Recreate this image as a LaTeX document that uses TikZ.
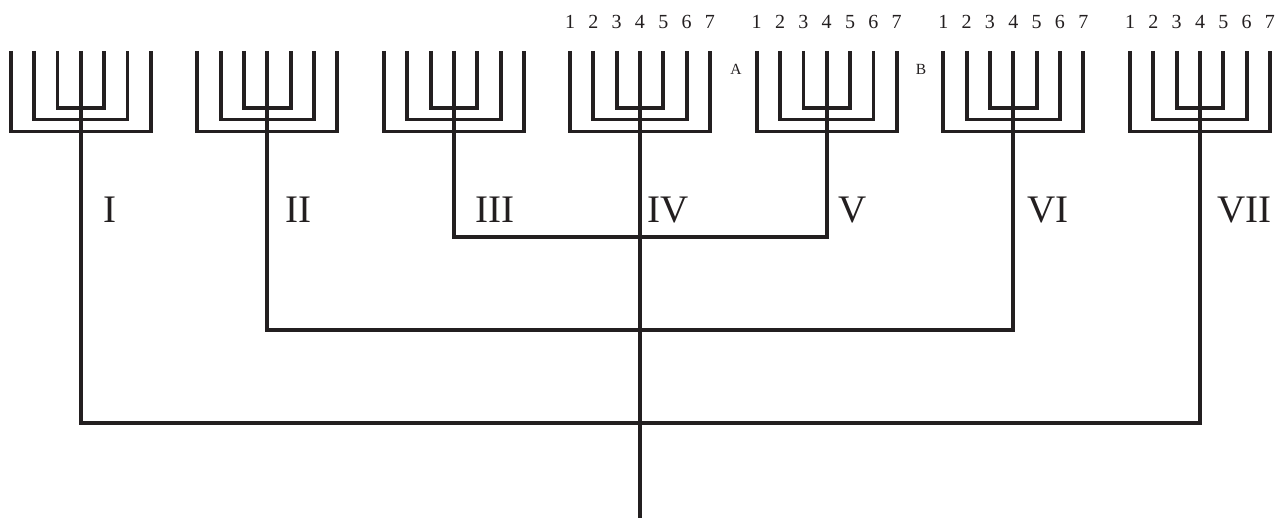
\documentclass[tikz,border=0pt]{standalone}
\usepackage{fontspec}
\setmainfont{Liberation Serif}
\definecolor{ink}{HTML}{231F20}
\begin{document}
\begin{tikzpicture}[x=1pt,y=-1pt,
  wire/.style={draw=ink,line width=3.8pt,line join=miter,line cap=butt},
  roman/.style={anchor=base west,inner sep=0pt,text=ink,font=\fontsize{39}{39}\selectfont},
  digit/.style={anchor=base,inner sep=0pt,text=ink,font=\fontsize{20}{20}\selectfont},
  letter/.style={anchor=base,inner sep=0pt,text=ink,font=\fontsize{15.5}{15.5}\selectfont}]
\useasboundingbox (0,0) rectangle (1280,518);
% menorahs
\foreach \c [count=\i] in {80.7,267.3,454,640,826.7,1013.3,1200}{
  \coordinate (m\i) at (\c,131.5);
  \draw[wire] (\c-23.3,51) |- (\c,108.3) -| (\c+23.3,51);
  \draw[wire] (\c-46.7,51) |- (\c,119.6) -| (\c+46.7,51);
  \draw[wire] (\c-70,51) |- (\c,131.5) -| (\c+70,51);
  \draw[wire] (\c,51) -- (m\i);
}
% connectors
\coordinate (h1) at (640,236.7);
\coordinate (h2) at (640,330);
\coordinate (h3) at (640,422.7);
\coordinate (root) at (640,519);
\draw[wire] (m3) |- (h1) -| (m5);
\draw[wire] (m2) |- (h2) -| (m6);
\draw[wire] (m1) |- (h3) -| (m7);
\draw[wire] (m4) -- (root);
% roman labels
\node[roman] (lI) at (103,222.7) {I};
\node[roman] (lII) at (285,222.7) {II};
\node[roman] (lIII) at (475,222.7) {III};
\node[roman] (lIV) at (647,222.7) {IV};
\node[roman] (lV) at (838,222.7) {V};
\node[roman] (lVI) at (1027,222.7) {VI};
\node[roman] (lVII) at (1217,222.7) {VII};
% digits
\foreach \c [count=\j] in {640,826.7,1013.3,1200}{
  \foreach \d in {1,...,7}{
    \node[digit] (d\j-\d) at (\c+23.33*\d-93.33,29) {\d};
  }
}
\node[letter] (A) at (736,75) {A};
\node[letter] (B) at (921,75) {B};
\end{tikzpicture}
\end{document}
